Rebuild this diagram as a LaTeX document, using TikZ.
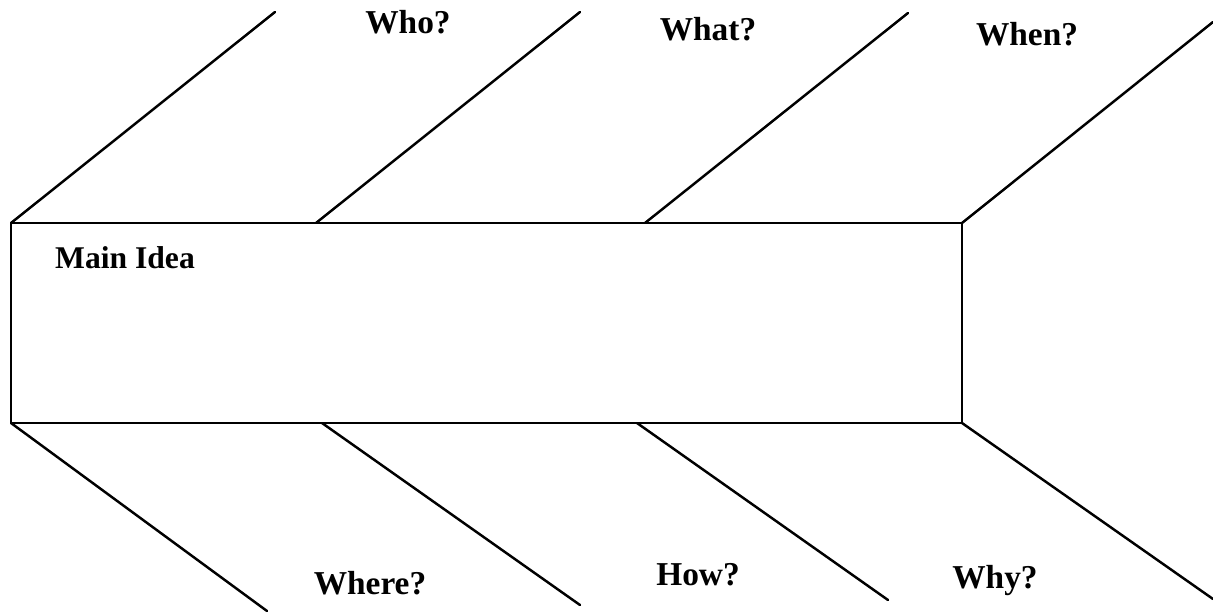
\documentclass[tikz,border=0pt]{standalone}
\usepackage{fontspec}
\setmainfont{Liberation Serif}
\usetikzlibrary{calc}

\tikzset{
  bone/.style={line width=1.4pt, black, line cap=round},
  ask/.style={anchor=base, inner sep=0pt, font=\bfseries\fontsize{19}{22}\selectfont}
}

\begin{document}
\begin{tikzpicture}[x=0.02cm, y=-0.02cm]

\useasboundingbox (0,0) rectangle (1213,612);

% spine box
\coordinate (tl) at (11,223);
\coordinate (tr) at (962,223);
\coordinate (bl) at (11,423);
\coordinate (br) at (962,423);
\draw [bone, line cap=butt] (tl) rectangle (br);

% upper bones
\coordinate (u2) at (316,223);
\coordinate (u3) at (645,223);
\draw [bone] (tl) -- (275,12);
\draw [bone] (u2) -- (580,12);
\draw [bone] (u3) -- (908,13);
\draw [bone] (tr) -- (1213,22);

% lower bones
\coordinate (l2) at (322,423);
\coordinate (l3) at (637,423);
\draw [bone] (bl) -- (267,611);
\draw [bone] (l2) -- (580,605);
\draw [bone] (l3) -- (888,600);
\draw [bone] (br) -- (1213,599);

% labels
\node [ask, font=\bfseries\fontsize{18}{21}\selectfont] (idea) at (125,268) {Main Idea};
\node [ask] (who) at (408,33) {Who?};
\node [ask] (what) at (708,40) {What?};
\node [ask] (when) at (1027,45) {When?};
\node [ask] (where) at (370,594) {Where?};
\node [ask] (how) at (698,585) {How?};
\node [ask] (why) at (995,588) {Why?};

\end{tikzpicture}
\end{document}
